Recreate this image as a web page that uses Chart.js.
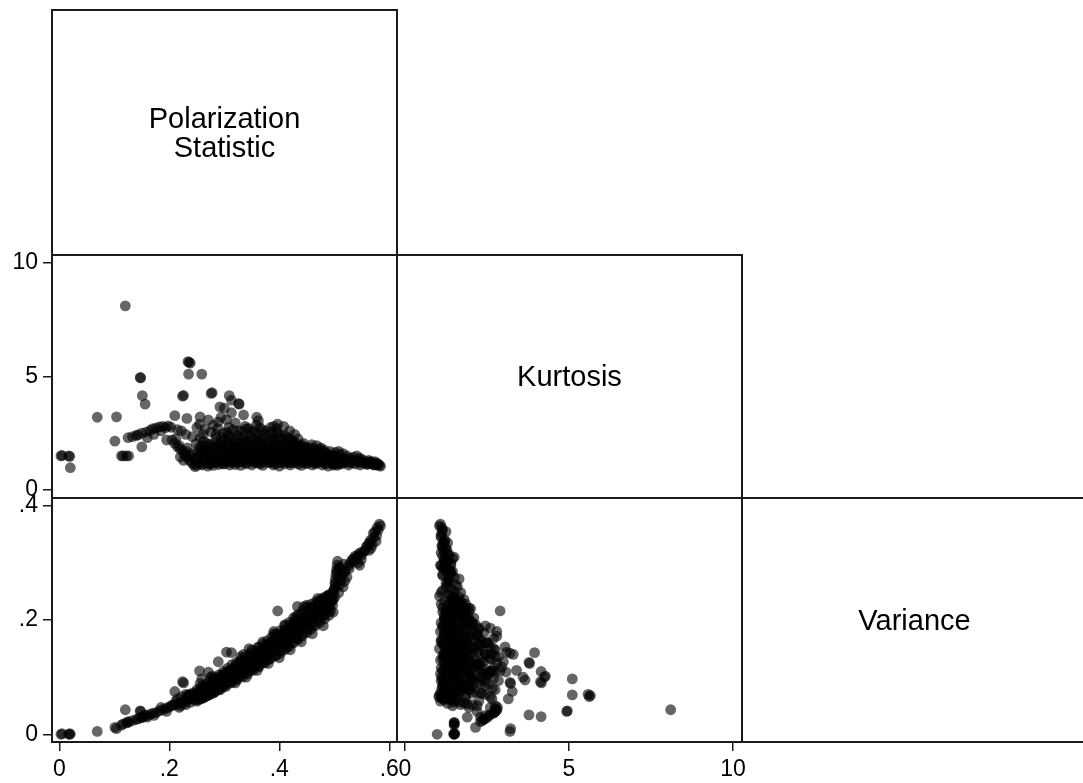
<!DOCTYPE html>
<html>
<head>
<meta charset="utf-8">
<script src="https://cdn.jsdelivr.net/npm/chart.js@4.4.1/dist/chart.umd.min.js"></script>
<style>
  html, body { margin: 0; padding: 0; background: #fff; overflow: hidden; }
  #wrap { position: relative; width: 1083px; height: 783px; font-family: "Liberation Sans", Arial, sans-serif; }
  #wrap canvas { position: absolute; left: 0; top: 0; }
  .cell {
    position: absolute; box-sizing: border-box; border: 2px solid #1a1a1a;
    display: flex; align-items: center; justify-content: center;
    text-align: center; font-size: 29px; line-height: 29px; color: #000; white-space: pre-line;
  }
</style>
</head>
<body>
<div id="wrap">
  <canvas id="kp" width="1083" height="783"></canvas>
  <canvas id="vp" width="1083" height="783"></canvas>
  <canvas id="vk" width="1083" height="783"></canvas>
</div>
<script>
// variabel (diagonal)
const varNames = ['Polarization\nStatistic', 'Kurtosis', 'Variance'];

// tick axis
const pTicks = [0, 0.2, 0.4, 0.6];
const pTickLabels = ['0', '.2', '.4', '.6'];
const kTicks = [0, 5, 10];
const kTickLabels = ['0', '5', '10'];
const vTicks = [0, 0.2, 0.4];
const vTickLabels = ['0', '.2', '.4'];

// observasi: polarization, kurtosis, variance (urutan sama)
const polarization = [
  // titik rendah / outlier
  0.003, 0.005, 0.017, 0.019, 0.020, 0.069, 0.104, 0.101, 0.120, 0.113, 0.116, 0.122, 0.126, 0.147, 0.148, 0.151, 0.156, 0.150,
  // lengan naik
  0.125, 0.133, 0.140, 0.143, 0.150, 0.158, 0.165, 0.170, 0.176, 0.182, 0.188, 0.193, 0.198, 0.203, 0.172, 0.195, 0.160, 0.185,
  // outlier tengah
  0.224, 0.226, 0.234, 0.236, 0.238, 0.235, 0.259, 0.276, 0.278, 0.309, 0.313, 0.326, 0.327, 0.292, 0.294, 0.313, 0.335, 0.359,
  0.210, 0.232, 0.256, 0.271, 0.289, 0.304, 0.362, 0.397, 0.390, 0.255, 0.300, 0.320, 0.345, 0.265, 0.280, 0.250,
  // lengan turun
  0.205, 0.210, 0.215, 0.220, 0.225, 0.228, 0.232, 0.236, 0.240, 0.244, 0.247, 0.218, 0.230, 0.238, 0.212, 0.222, 0.230, 0.242, 0.215,
  // massa utama
  0.250, 0.252, 0.254, 0.256, 0.251,
  0.260, 0.262, 0.263, 0.265, 0.261,
  0.270, 0.272, 0.274, 0.275, 0.276, 0.278,
  0.280, 0.282, 0.284, 0.285, 0.287, 0.288,
  0.290, 0.292, 0.294, 0.295, 0.297, 0.298,
  0.300, 0.302, 0.304, 0.305, 0.307, 0.308,
  0.310, 0.312, 0.314, 0.316, 0.317, 0.319,
  0.320, 0.322, 0.324, 0.326, 0.328, 0.329,
  0.330, 0.332, 0.334, 0.336, 0.338, 0.339,
  0.340, 0.342, 0.344, 0.346, 0.348, 0.349,
  0.350, 0.352, 0.354, 0.356, 0.358, 0.359,
  0.360, 0.362, 0.364, 0.366, 0.368, 0.369,
  0.370, 0.372, 0.374, 0.376, 0.378, 0.379,
  0.380, 0.382, 0.384, 0.386, 0.388, 0.389,
  0.390, 0.392, 0.394, 0.396, 0.398, 0.399,
  0.400, 0.402, 0.404, 0.406, 0.408, 0.409,
  0.410, 0.412, 0.414, 0.416, 0.418, 0.419,
  0.420, 0.422, 0.424, 0.426, 0.428, 0.429,
  0.430, 0.432, 0.434, 0.436, 0.438, 0.433,
  0.440, 0.442, 0.444, 0.446, 0.448, 0.445,
  0.450, 0.452, 0.454, 0.456, 0.458, 0.459,
  0.460, 0.462, 0.464, 0.466, 0.468, 0.469,
  0.470, 0.472, 0.474, 0.476, 0.478, 0.479,
  0.480, 0.482, 0.484, 0.486, 0.488, 0.489,
  0.490, 0.492, 0.494, 0.496, 0.498,
  0.500, 0.501, 0.502, 0.503, 0.504, 0.505, 0.506,
  0.510, 0.512, 0.514, 0.516, 0.518, 0.508,
  0.520, 0.523, 0.526, 0.529, 0.532,
  0.535, 0.538, 0.541, 0.544, 0.547, 0.550, 0.553, 0.556,
  0.560, 0.563, 0.566, 0.569, 0.572, 0.574, 0.578, 0.582, 0.584, 0.576,
  // massa utama, lapis kedua
  0.253, 0.256, 0.259,
  0.263, 0.266, 0.269,
  0.273, 0.276, 0.279,
  0.283, 0.286, 0.289,
  0.293, 0.296, 0.299,
  0.303, 0.306, 0.309,
  0.313, 0.316, 0.319,
  0.323, 0.326, 0.329,
  0.333, 0.336, 0.339,
  0.343, 0.346, 0.349,
  0.353, 0.356, 0.359,
  0.363, 0.366, 0.369,
  0.373, 0.376, 0.379,
  0.383, 0.386, 0.389,
  0.393, 0.396, 0.399,
  0.403, 0.406, 0.409,
  0.413, 0.416, 0.419,
  0.423, 0.426, 0.429,
  0.433, 0.436, 0.439,
  0.443, 0.446, 0.449,
  0.453, 0.456, 0.459,
  0.463, 0.466, 0.469,
  0.473, 0.476, 0.479,
  0.483, 0.486, 0.489,
  0.493, 0.496, 0.499,
  0.497, 0.501,
  0.504, 0.507, 0.509,
  0.513, 0.517,
  0.543, 0.546,
  0.563, 0.567,
  0.220, 0.226, 0.233, 0.241, 0.246, 0.249,
  // massa utama, lapis ketiga
  0.258, 0.258, 0.258,
  0.266, 0.266, 0.266,
  0.274, 0.274, 0.274,
  0.282, 0.282, 0.282,
  0.290, 0.290, 0.290,
  0.298, 0.298, 0.298,
  0.306, 0.306, 0.306,
  0.314, 0.314, 0.314,
  0.322, 0.322, 0.322,
  0.330, 0.330, 0.330,
  0.338, 0.338, 0.338,
  0.346, 0.346, 0.346,
  0.354, 0.354, 0.354,
  0.362, 0.362, 0.362,
  0.370, 0.370, 0.370,
  0.378, 0.378, 0.378,
  0.386, 0.386, 0.386,
  0.394, 0.394, 0.394,
  0.402, 0.402, 0.402,
  0.410, 0.410, 0.410,
  0.418, 0.418, 0.418,
  0.426, 0.426, 0.426,
  0.434, 0.434, 0.434,
  0.442, 0.442, 0.442,
  0.450, 0.450, 0.450,
  0.458, 0.458, 0.458,
  0.466, 0.466, 0.466,
  0.474, 0.474, 0.474,
  0.482, 0.482, 0.482,
  0.490, 0.490, 0.490,
  0.498, 0.498, 0.498,
  0.502, 0.505, 0.511, 0.519, 0.527, 0.535, 0.549, 0.558, 0.566, 0.571, 0.580, 0.577,
  // bagian atas wedge + tepi pita
  0.300, 0.305, 0.310, 0.315, 0.320, 0.325, 0.330, 0.335, 0.340, 0.345,
  0.350, 0.355, 0.360, 0.365, 0.370, 0.375, 0.380, 0.385, 0.390, 0.395,
  0.400, 0.405, 0.410, 0.415, 0.420, 0.425, 0.430, 0.440, 0.285, 0.295,
  0.360, 0.380, 0.400, 0.420, 0.440, 0.460, 0.480, 0.340, 0.320,
  0.370, 0.390, 0.410, 0.430, 0.450, 0.470, 0.350, 0.330
];
const kurtosis = [
  1.50, 1.52, 1.50, 1.48, 0.98, 3.20, 3.22, 2.15, 8.10, 1.50, 1.50, 1.50, 1.50, 4.95, 4.93, 4.15, 3.78, 1.90,
  2.30, 2.35, 2.40, 2.42, 2.50, 2.55, 2.62, 2.70, 2.72, 2.78, 2.80, 2.74, 2.82, 2.76, 2.45, 2.20, 2.30, 2.60,
  4.13, 4.16, 5.65, 5.62, 5.58, 5.10, 5.10, 4.25, 4.28, 4.15, 3.95, 3.80, 3.78, 3.66, 3.20, 3.40, 3.30, 3.20,
  3.27, 3.15, 3.22, 3.08, 3.00, 3.10, 3.05, 2.90, 2.80, 2.90, 3.60, 2.95, 2.70, 2.67, 2.85, 2.75,
  2.20, 2.05, 1.90, 1.80, 1.68, 1.55, 1.45, 1.32, 1.22, 1.12, 1.03, 1.95, 1.70, 1.50, 2.25, 2.60, 2.45, 2.35, 2.65,
  1.08, 1.40, 1.85, 2.30, 1.65,
  1.10, 1.35, 2.15, 1.80, 2.45,
  1.05, 1.50, 2.00, 1.25, 2.55, 1.70,
  1.08, 1.40, 1.90, 2.30, 1.60, 2.70,
  1.12, 1.85, 1.30, 2.10, 1.55, 2.50,
  1.15, 1.70, 2.00, 1.40, 2.40, 2.75,
  1.10, 1.60, 1.95, 1.30, 2.25, 1.75,
  1.12, 1.50, 2.60, 1.85, 1.25, 2.10,
  1.08, 1.65, 2.35, 1.40, 2.80, 1.95,
  1.15, 1.55, 2.20, 1.80, 1.30, 2.55,
  1.10, 1.70, 2.00, 1.45, 2.85, 1.20,
  1.55, 2.30, 1.15, 1.90, 2.65, 1.35,
  1.08, 1.75, 2.45, 1.40, 2.10, 1.60,
  1.20, 1.85, 2.75, 1.50, 2.25, 1.10,
  1.65, 2.00, 1.30, 2.50, 1.45, 1.95,
  1.05, 1.75, 2.35, 1.25, 2.80, 1.55,
  1.15, 1.90, 1.40, 2.20, 1.65, 2.60,
  1.10, 1.50, 2.05, 1.30, 2.45, 1.80,
  1.20, 1.60, 2.25, 1.40, 1.90, 1.75,
  1.08, 1.55, 2.05, 1.30, 1.75, 1.45,
  1.15, 1.85, 1.40, 1.65, 1.25, 2.00,
  1.10, 1.50, 1.80, 1.30, 1.95, 1.60,
  1.20, 1.70, 1.40, 1.85, 1.10, 1.55,
  1.30, 1.75, 1.15, 1.60, 1.45, 1.05,
  1.35, 1.70, 1.20, 1.50, 1.10,
  1.40, 1.25, 1.65, 1.15, 1.35, 1.08, 1.20,
  1.55, 1.30, 1.15, 1.60, 1.40, 1.70,
  1.25, 1.50, 1.10, 1.40, 1.20,
  1.45, 1.15, 1.50, 1.30, 1.10, 1.35, 1.20, 1.28,
  1.12, 1.30, 1.22, 1.15, 1.10, 1.25, 1.12, 1.08, 1.05, 1.18,
  1.20, 1.55, 1.95,
  1.30, 1.70, 2.05,
  1.15, 1.45, 1.85,
  1.25, 1.65, 2.00,
  1.20, 1.45, 1.75,
  1.25, 1.55, 1.90,
  1.20, 1.45, 2.05,
  1.35, 1.70, 1.95,
  1.25, 1.55, 2.15,
  1.40, 1.65, 1.95,
  1.30, 1.60, 2.20,
  1.25, 1.70, 2.05,
  1.35, 1.55, 1.90,
  1.25, 1.70, 2.10,
  1.15, 1.55, 1.85,
  1.35, 1.65, 2.05,
  1.25, 1.55, 1.85,
  1.20, 1.65, 1.95,
  1.30, 1.50, 1.70,
  1.20, 1.65, 1.85,
  1.35, 1.50, 1.75,
  1.20, 1.45, 1.70,
  1.30, 1.60, 1.45,
  1.20, 1.50, 1.35,
  1.25, 1.45, 1.15,
  1.30, 1.50,
  1.25, 1.35, 1.15,
  1.40, 1.20,
  1.25, 1.40,
  1.18, 1.25,
  1.45, 1.30, 1.85, 1.60, 1.40, 2.05,
  1.15, 1.50, 1.80,
  1.25, 1.60, 1.95,
  1.35, 1.75, 1.15,
  1.20, 1.50, 2.05,
  1.30, 1.70, 1.95,
  1.15, 1.45, 1.85,
  1.25, 1.60, 2.10,
  1.35, 1.75, 1.50,
  1.20, 1.55, 1.90,
  1.30, 1.80, 1.50,
  1.20, 1.60, 2.05,
  1.35, 1.75, 1.50,
  1.20, 1.55, 1.90,
  1.30, 1.70, 2.10,
  1.20, 1.50, 1.85,
  1.35, 1.65, 2.00,
  1.20, 1.55, 1.80,
  1.30, 1.70, 2.20,
  1.20, 1.45, 1.90,
  1.30, 1.65, 2.00,
  1.20, 1.50, 1.80,
  1.30, 1.70, 2.10,
  1.15, 1.45, 1.85,
  1.30, 1.60, 1.95,
  1.20, 1.50, 1.75,
  1.30, 1.60, 1.85,
  1.15, 1.45, 1.70,
  1.25, 1.55, 1.80,
  1.20, 1.40, 1.65,
  1.25, 1.55, 1.40,
  1.15, 1.35, 1.50,
  1.30, 1.45, 1.25, 1.35, 1.20, 1.30, 1.20, 1.15, 1.20, 1.12, 1.15, 1.10,
  2.20, 2.55, 2.35, 2.65, 2.15, 2.40, 2.60, 2.25, 2.70, 2.40,
  2.25, 2.60, 2.45, 2.75, 2.25, 2.60, 2.40, 2.55, 2.30, 2.70,
  2.45, 2.20, 2.40, 2.30, 2.25, 2.15, 2.05, 1.95, 2.45, 2.30,
  1.45, 1.35, 1.50, 1.40, 1.45, 1.35, 1.30, 1.40, 1.30,
  1.60, 1.75, 1.85, 1.55, 1.70, 1.50, 1.85, 1.60
];
const variance = [
  0.000, 0.001, 0.000, 0.001, 0.000, 0.005, 0.010, 0.012, 0.043, 0.016, 0.018, 0.020, 0.021, 0.041, 0.040, 0.031, 0.034, 0.030,
  0.022, 0.024, 0.026, 0.027, 0.029, 0.032, 0.035, 0.037, 0.038, 0.041, 0.043, 0.045, 0.047, 0.050, 0.033, 0.040, 0.030, 0.047,
  0.092, 0.090, 0.068, 0.066, 0.070, 0.069, 0.097, 0.100, 0.102, 0.110, 0.143, 0.124, 0.126, 0.095, 0.091, 0.112, 0.140, 0.142,
  0.075, 0.062, 0.089, 0.109, 0.127, 0.144, 0.153, 0.216, 0.180, 0.111, 0.100, 0.118, 0.150, 0.080, 0.094, 0.078,
  0.050, 0.052, 0.053, 0.055, 0.057, 0.059, 0.060, 0.062, 0.063, 0.065, 0.066, 0.047, 0.052, 0.056, 0.058, 0.066, 0.070, 0.072, 0.062,
  0.058, 0.062, 0.068, 0.072, 0.075,
  0.064, 0.070, 0.074, 0.080, 0.085,
  0.068, 0.074, 0.078, 0.082, 0.088, 0.090,
  0.072, 0.078, 0.083, 0.088, 0.092, 0.098,
  0.080, 0.086, 0.090, 0.094, 0.099, 0.104,
  0.086, 0.092, 0.097, 0.100, 0.106, 0.110,
  0.094, 0.099, 0.104, 0.108, 0.112, 0.116,
  0.100, 0.105, 0.110, 0.113, 0.117, 0.121,
  0.106, 0.110, 0.114, 0.118, 0.124, 0.127,
  0.112, 0.116, 0.120, 0.125, 0.130, 0.134,
  0.116, 0.121, 0.126, 0.131, 0.136, 0.139,
  0.124, 0.128, 0.132, 0.137, 0.141, 0.145,
  0.130, 0.135, 0.140, 0.145, 0.150, 0.155,
  0.138, 0.143, 0.148, 0.153, 0.158, 0.162,
  0.145, 0.150, 0.156, 0.161, 0.166, 0.172,
  0.150, 0.156, 0.161, 0.166, 0.172, 0.178,
  0.158, 0.163, 0.168, 0.174, 0.180, 0.186,
  0.165, 0.171, 0.177, 0.183, 0.190, 0.196,
  0.173, 0.180, 0.186, 0.192, 0.200, 0.224,
  0.180, 0.187, 0.194, 0.200, 0.207, 0.224,
  0.188, 0.194, 0.200, 0.207, 0.214, 0.220,
  0.195, 0.202, 0.208, 0.214, 0.221, 0.228,
  0.203, 0.209, 0.215, 0.222, 0.228, 0.234,
  0.210, 0.216, 0.222, 0.229, 0.236, 0.242,
  0.218, 0.225, 0.232, 0.240, 0.248,
  0.255, 0.265, 0.272, 0.280, 0.288, 0.296, 0.303,
  0.262, 0.270, 0.278, 0.258, 0.285, 0.248,
  0.285, 0.275, 0.295, 0.300, 0.305,
  0.308, 0.312, 0.310, 0.315, 0.318, 0.314, 0.320, 0.322,
  0.330, 0.335, 0.340, 0.332, 0.345, 0.355, 0.362, 0.368, 0.365, 0.338,
  0.060, 0.070, 0.078,
  0.064, 0.076, 0.084,
  0.070, 0.080, 0.092,
  0.074, 0.085, 0.100,
  0.078, 0.092, 0.106,
  0.084, 0.096, 0.112,
  0.090, 0.103, 0.118,
  0.095, 0.108, 0.124,
  0.100, 0.114, 0.130,
  0.106, 0.120, 0.138,
  0.112, 0.126, 0.144,
  0.118, 0.134, 0.150,
  0.125, 0.140, 0.158,
  0.132, 0.148, 0.165,
  0.138, 0.156, 0.175,
  0.146, 0.162, 0.182,
  0.152, 0.170, 0.192,
  0.160, 0.178, 0.200,
  0.168, 0.188, 0.210,
  0.176, 0.196, 0.216,
  0.184, 0.204, 0.222,
  0.192, 0.212, 0.230,
  0.200, 0.218, 0.238,
  0.208, 0.226, 0.244,
  0.215, 0.234, 0.252,
  0.226, 0.240,
  0.258, 0.276, 0.292,
  0.282, 0.298,
  0.300, 0.296,
  0.322, 0.326,
  0.050, 0.054, 0.064, 0.068, 0.060, 0.072,
  0.062, 0.071, 0.082,
  0.066, 0.076, 0.088,
  0.070, 0.082, 0.094,
  0.074, 0.087, 0.098,
  0.078, 0.092, 0.104,
  0.083, 0.097, 0.110,
  0.088, 0.102, 0.116,
  0.092, 0.107, 0.122,
  0.097, 0.112, 0.126,
  0.102, 0.117, 0.130,
  0.107, 0.122, 0.136,
  0.111, 0.127, 0.141,
  0.116, 0.132, 0.146,
  0.120, 0.137, 0.152,
  0.125, 0.143, 0.158,
  0.130, 0.148, 0.164,
  0.134, 0.153, 0.170,
  0.138, 0.159, 0.176,
  0.142, 0.165, 0.182,
  0.148, 0.171, 0.190,
  0.154, 0.177, 0.196,
  0.160, 0.184, 0.204,
  0.166, 0.190, 0.210,
  0.172, 0.196, 0.216,
  0.178, 0.202, 0.222,
  0.184, 0.208, 0.228,
  0.190, 0.214, 0.232,
  0.196, 0.220, 0.236,
  0.202, 0.226, 0.240,
  0.208, 0.230, 0.244,
  0.214, 0.236, 0.250,
  0.262, 0.285, 0.292, 0.268, 0.290, 0.302, 0.306, 0.328, 0.336, 0.352, 0.358, 0.348,
  0.090, 0.104, 0.098, 0.110, 0.104, 0.116, 0.110, 0.122, 0.118, 0.128,
  0.124, 0.132, 0.140, 0.136, 0.146, 0.152, 0.146, 0.160, 0.156, 0.168,
  0.160, 0.172, 0.178, 0.166, 0.184, 0.192, 0.196, 0.204, 0.094, 0.100,
  0.112, 0.124, 0.134, 0.148, 0.162, 0.176, 0.190, 0.100, 0.090,
  0.162, 0.176, 0.192, 0.206, 0.226, 0.238, 0.148, 0.136
];

if (polarization.length !== kurtosis.length || kurtosis.length !== variance.length) {
  console.warn('panjang data beda', polarization.length, kurtosis.length, variance.length);
}

// grid panel (px)
const colEdges = [52, 397, 742, 1087];
const rowEdges = [10, 255, 498, 742];

const wrap = document.getElementById('wrap');
function addCell(c, r, text) {
  const d = document.createElement('div');
  d.className = 'cell';
  d.style.left = (colEdges[c] - 1) + 'px';
  d.style.top = (rowEdges[r] - 1) + 'px';
  d.style.width = (colEdges[c + 1] - colEdges[c] + 2) + 'px';
  d.style.height = (rowEdges[r + 1] - rowEdges[r] + 2) + 'px';
  d.textContent = text;
  wrap.appendChild(d);
}
// kotak label diagonal
varNames.forEach((name, i) => addCell(i, i, name));
// kotak scatter
addCell(0, 1, '');
addCell(0, 2, '');
addCell(1, 2, '');

const tickFont = { family: '"Liberation Sans", Arial, sans-serif', size: 23 };

function makeAxis(lim, ticks, labels, show, size) {
  return {
    type: 'linear',
    display: show,
    min: lim[0],
    max: lim[1],
    afterBuildTicks: s => { s.ticks = ticks.map(v => ({ value: v })); },
    afterFit: s => {
      if (s.isHorizontal()) s.height = size; else s.width = size;
    },
    ticks: {
      autoSkip: false, maxRotation: 0, padding: 5, color: '#000', font: tickFont,
      callback: (v, i) => labels[i]
    },
    grid: { drawOnChartArea: false, drawTicks: true, tickLength: 9, color: '#1a1a1a', lineWidth: 1.5 },
    border: { display: false }
  };
}

function scatterPanel(id, xs, ys, xAxis, yAxis, pad) {
  const n = Math.min(xs.length, ys.length);
  const pts = [];
  for (let i = 0; i < n; i++) pts.push({ x: xs[i], y: ys[i] });
  new Chart(document.getElementById(id), {
    type: 'scatter',
    data: {
      datasets: [{
        data: pts,
        backgroundColor: 'rgba(0,0,0,0.6)',
        borderWidth: 0,
        pointRadius: 5.4,
        pointHoverRadius: 5.4
      }]
    },
    options: {
      responsive: false,
      animation: false,
      events: [],
      layout: { padding: pad },
      plugins: { legend: { display: false }, tooltip: { enabled: false } },
      scales: { x: xAxis, y: yAxis }
    }
  });
}

const pLim = [-0.0133, 0.614];
const kLimX = [-0.244, 10.274];
const kLimY = [-0.352, 10.339];
const vLim = [-0.0135, 0.4138];

// Kurtosis vs Polarization
scatterPanel('kp', polarization, kurtosis,
  makeAxis(pLim, pTicks, pTickLabels, false, 0),
  makeAxis(kLimY, kTicks, kTickLabels, true, 52),
  { left: 0, top: 255, right: 1083 - 397, bottom: 783 - 498 });

// Variance vs Polarization
scatterPanel('vp', polarization, variance,
  makeAxis(pLim, pTicks, pTickLabels, true, 40),
  makeAxis(vLim, vTicks, vTickLabels, true, 52),
  { left: 0, top: 498, right: 1083 - 397, bottom: 1 });

// Variance vs Kurtosis
scatterPanel('vk', kurtosis, variance,
  makeAxis(kLimX, kTicks, kTickLabels, true, 40),
  makeAxis(vLim, vTicks, vTickLabels, false, 0),
  { left: 397, top: 498, right: 1083 - 742, bottom: 1 });
</script>
</body>
</html>
